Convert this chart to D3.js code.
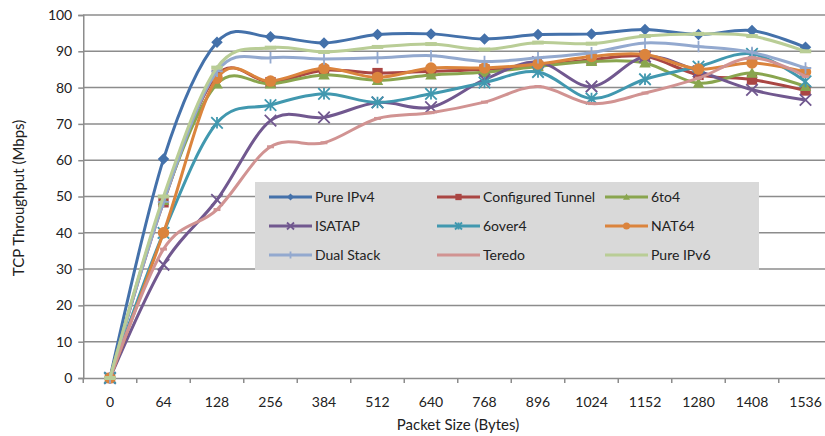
<!DOCTYPE html>
<html><head><meta charset="utf-8">
<script src="https://cdn.jsdelivr.net/npm/d3@7"></script>
<style>html,body{margin:0;padding:0;background:#fff;overflow:hidden}</style>
</head><body>
<script>
const categories = ["0","64","128","256","384","512","640","768","896","1024","1152","1280","1408","1536"];
const yTicks = [0,10,20,30,40,50,60,70,80,90,100];
const pureIPv4 = [0, 60.3, 92.5, 94, 92.3, 94.6, 94.8, 93.4, 94.6, 94.8, 96.0, 94.6, 95.7, 91.1];
const configuredTunnel = [0, 48.4, 83.5, 81.5, 84.8, 84, 84.5, 85, 86, 87.7, 88.6, 83.5, 82.2, 79.2];
const sixToFour = [0, 48.9, 81, 81, 83.5, 82, 83.5, 84.2, 85.8, 87.2, 86.8, 81.2, 84, 80.3];
const isatap = [0, 31.2, 49.1, 70.9, 71.8, 75.9, 74.6, 82.2, 87, 80.3, 88.5, 84.5, 79.4, 76.6];
const sixOver4 = [0, 40, 70.3, 75.2, 78.3, 75.9, 78.3, 81.4, 84.3, 77, 82.3, 85.8, 89.3, 81.7];
const nat64 = [0, 40, 82.6, 81.8, 85.3, 82.8, 85.4, 85.4, 86.5, 88.6, 89.1, 85.1, 86.8, 84.3];
const dualStack = [0, 48.5, 84.5, 88.2, 87.9, 88.2, 88.8, 87.2, 88.2, 89.6, 92.3, 91.3, 89.7, 85.4];
const teredo = [0, 35.5, 46.4, 63.7, 64.8, 71.5, 73.1, 76, 80.3, 75.6, 78.5, 82.6, 88.2, 83.1];
const pureIPv6 = [0, 50, 85.5, 91, 89.8, 91.2, 92, 90.5, 92.4, 92.1, 94.2, 94.8, 94.2, 90];
const seriesNames = ["Pure IPv4","Configured Tunnel","6to4","ISATAP","6over4","NAT64","Dual Stack","Teredo","Pure IPv6"];
const seriesValues = [pureIPv4, configuredTunnel, sixToFour, isatap, sixOver4, nat64, dualStack, teredo, pureIPv6];
const seriesColors = ["#4471AA","#AA4643","#89A54E","#71588F","#4198AF","#DB843D","#93A9CF","#D19392","#B9CD96"];
const seriesMarkers = ["diamond","square","triangle","x","star","circle","plus","dash","longdash"];

const W = 825, H = 436;
const font = "Lato, 'Open Sans', sans-serif";
const svg = d3.select("body").append("svg").attr("width", W).attr("height", H);

const x = d3.scaleBand().domain(categories).range([83.25, 83.25 + 14*53.5]).padding(0);
const y = d3.scaleLinear().domain([0,100]).range([378, 15]);
const cx = c => x(c) + x.bandwidth()/2;

svg.append("g").selectAll("line").data(yTicks.filter(t=>t>0)).join("line")
  .attr("x1", 83).attr("x2", W).attr("y1", d=>y(d)).attr("y2", d=>y(d))
  .attr("stroke", "#8C8C8C").attr("stroke-width", 1.5);

const yAxis = svg.append("g").attr("transform", "translate(83.25,0)")
  .call(d3.axisLeft(y).tickValues(yTicks).tickSize(5).tickPadding(6));
yAxis.select(".domain").attr("stroke", "#8C8C8C").attr("stroke-width", 1.5);
yAxis.selectAll(".tick line").attr("stroke", "#8C8C8C").attr("stroke-width", 1.5);
yAxis.selectAll("text").attr("font-family", font).attr("font-size", 14).attr("fill", "#222");

const xAxis = svg.append("g").attr("transform", "translate(0,378)")
  .call(d3.axisBottom(x).tickSize(0).tickPadding(19));
xAxis.select(".domain").attr("stroke", "#8C8C8C").attr("stroke-width", 1.5);
xAxis.selectAll("text").attr("font-family", font).attr("font-size", 14).attr("fill", "#222");
svg.append("g").selectAll("line").data(categories).join("line")
  .attr("x1", d=>x(d)).attr("x2", d=>x(d)).attr("y1", 378).attr("y2", 383)
  .attr("stroke", "#8C8C8C").attr("stroke-width", 1.5);

svg.append("text").attr("x", 458).attr("y", 430).attr("text-anchor","middle")
  .attr("font-family", font).attr("font-size", 15).attr("fill","#222").text("Packet Size (Bytes)");
svg.append("text").attr("transform","translate(24,198) rotate(-90)").attr("text-anchor","middle")
  .attr("font-family", font).attr("font-size", 15).attr("fill","#222").text("TCP Throughput (Mbps)");

function marker(g, type, color, s) {
  const h = s/2;
  if (type === "diamond") g.append("path").attr("d", `M0,${-h}L${h},0L0,${h}L${-h},0Z`).attr("fill", color);
  else if (type === "square") g.append("rect").attr("x",-h*0.9).attr("y",-h*0.9).attr("width",s*0.9).attr("height",s*0.9).attr("fill", color);
  else if (type === "triangle") g.append("path").attr("d", `M0,${-h}L${h},${h*0.8}L${-h},${h*0.8}Z`).attr("fill", color);
  else if (type === "circle") g.append("circle").attr("r", h).attr("fill", color);
  else if (type === "x") g.append("path").attr("d", `M${-h},${-h}L${h},${h}M${-h},${h}L${h},${-h}`).attr("stroke", color).attr("stroke-width", 1.8);
  else if (type === "star") g.append("path").attr("d", `M${-h},${-h}L${h},${h}M${-h},${h}L${h},${-h}M0,${-h}L0,${h}`).attr("stroke", color).attr("stroke-width", 1.8);
  else if (type === "plus") g.append("path").attr("d", `M0,${-h}L0,${h}M${-h},0L${h},0`).attr("stroke", color).attr("stroke-width", 1.8);
  else if (type === "dash") g.append("path").attr("d", `M${-h*0.6},0L${h*0.6},0`).attr("stroke", color).attr("stroke-width", 3);
  else if (type === "longdash") g.append("path").attr("d", `M${-h},0L${h},0`).attr("stroke", color).attr("stroke-width", 4);
}

const line = d3.line().x((d,i)=>cx(categories[i])).y(d=>y(d)).curve(d3.curveCardinal.tension(0));

seriesValues.forEach((vals, k) => {
  const g = svg.append("g");
  g.append("path").datum(vals).attr("d", line).attr("fill","none")
    .attr("stroke", seriesColors[k]).attr("stroke-width", 3).attr("stroke-linejoin","round");
  vals.forEach((v,i) => {
    const mg = g.append("g").attr("transform", `translate(${cx(categories[i])},${y(v)})`);
    marker(mg, seriesMarkers[k], seriesColors[k], 11.5);
  });
});

const lg = svg.append("g");
lg.append("rect").attr("x",255).attr("y",182).attr("width",504).attr("height",88).attr("fill","#D9D9D9");
const colX = [269, 437, 605];
const rowY = [197, 226, 255];
seriesNames.forEach((name, k) => {
  const c = k % 3, r = Math.floor(k / 3);
  const x0 = colX[c], y0 = rowY[r];
  lg.append("line").attr("x1", x0).attr("x2", x0+43).attr("y1", y0).attr("y2", y0)
    .attr("stroke", seriesColors[k]).attr("stroke-width", 3);
  const mg = lg.append("g").attr("transform", `translate(${x0+21.5},${y0})`);
  if (seriesMarkers[k] !== "dash" && seriesMarkers[k] !== "longdash") marker(mg, seriesMarkers[k], seriesColors[k], 7);
  lg.append("text").attr("x", x0+46).attr("y", y0).attr("dy","0.35em")
    .attr("font-family", font).attr("font-size", 14).attr("fill","#222").text(name);
});
</script>
</body></html>
